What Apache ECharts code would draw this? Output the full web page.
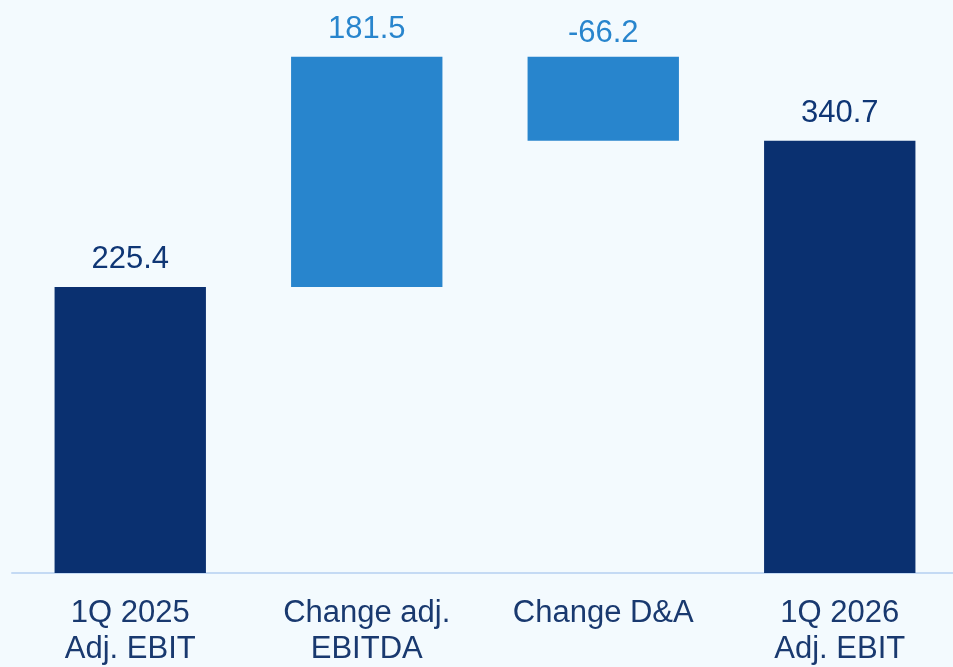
<!DOCTYPE html>
<html>
<head>
<meta charset="utf-8">
<script src="https://cdn.jsdelivr.net/npm/echarts@6/dist/echarts.min.js"></script>
<style>
  html, body { margin: 0; padding: 0; background: #F3FAFE; }
  #chart { width: 953px; height: 667px; }
</style>
</head>
<body>
<div id="chart"></div>
<script>
// Adjusted EBIT bridge, 1Q 2025 -> 1Q 2026
const categories = ['1Q 2025\nAdj. EBIT', 'Change adj.\nEBITDA', 'Change D&A', '1Q 2026\nAdj. EBIT'];
const values = [225.4, 181.5, -66.2, 340.7];
// 'total' bars start at zero, 'delta' bars float on the running total
const kinds = ['total', 'delta', 'delta', 'total'];

const DARK = '#0A3070';
const LIGHT = '#2885CD';

const baseData = [];
const barData = [];
let running = 0;
values.forEach((v, i) => {
  if (kinds[i] === 'total') {
    baseData.push(0);
    barData.push({ value: v, label: v, itemStyle: { color: DARK }, labelColor: '#0F3675' });
    running = v;
  } else {
    const start = v >= 0 ? running : running + v;
    baseData.push(start);
    barData.push({ value: Math.abs(v), label: v, itemStyle: { color: LIGHT }, labelColor: LIGHT });
    running += v;
  }
});

const chart = echarts.init(document.getElementById('chart'));
chart.setOption({
  backgroundColor: '#F3FAFE',
  animation: false,
  grid: { left: 12, width: 946, top: 2, bottom: 94, containLabel: false, outerBoundsMode: 'none' },
  xAxis: {
    type: 'category',
    data: categories,
    axisLine: { lineStyle: { color: '#C4DAF4', width: 2 } },
    axisTick: { show: false },
    axisLabel: {
      interval: 0,
      margin: 22,
      fontFamily: 'Liberation Sans, Arial, sans-serif',
      fontSize: 31,
      lineHeight: 36,
      color: '#19396F',
      verticalAlign: 'top'
    }
  },
  yAxis: {
    type: 'value',
    min: 0,
    max: 450,
    show: false,
    splitLine: { show: false }
  },
  series: [
    {
      type: 'bar',
      stack: 'bridge',
      data: baseData,
      itemStyle: { color: 'transparent' },
      barWidth: '64%',
      silent: true
    },
    {
      type: 'bar',
      stack: 'bridge',
      barWidth: '64%',
      data: barData.map(d => ({
        value: d.value,
        itemStyle: d.itemStyle,
        label: {
          show: true,
          position: 'top',
          distance: d.label < 0 ? 8 : 12,
          formatter: () => d.label.toFixed(1),
          fontFamily: 'Liberation Sans, Arial, sans-serif',
          fontSize: 31,
          color: d.labelColor
        }
      }))
    }
  ]
});
</script>
</body>
</html>
